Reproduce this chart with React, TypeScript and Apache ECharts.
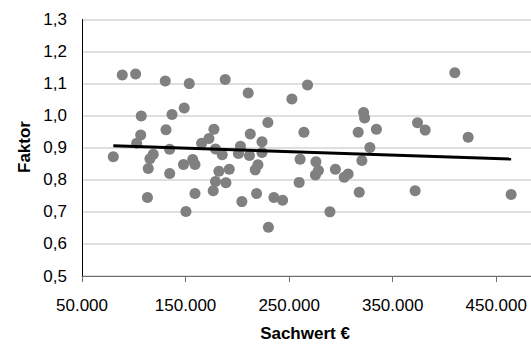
import React, { useEffect, useRef } from "react";
import * as echarts from "echarts";

// Sachwert (€) of each observation
const sachwert: number[] = [
  80200, 88900, 101800, 130400, 153600, 188300, 107200, 136900, 148700, 106700,
  131100, 177400, 172600, 165500, 102800, 118800, 115600, 134600, 178900, 203000,
  201100, 114000, 134700, 148000, 156900, 159100, 185400, 182200, 192200, 178900,
  189000, 176700, 204400, 113200, 159100, 150400, 210500, 252700, 267800, 229500,
  212500, 223800, 264300, 321900, 322900, 316700, 334300, 328000, 211700, 223800,
  219900, 217300, 260600, 275900, 278300, 275400, 294700, 307000, 303200, 320300,
  259700, 218600, 235300, 243700, 289400, 230000, 317700, 410000, 374000, 381400,
  422900, 371700, 464400,
];

// Faktor of each observation
const faktor: number[] = [
  0.872, 1.127, 1.13, 1.108, 1.1, 1.113, 0.999, 1.004, 1.024, 0.94,
  0.956, 0.958, 0.929, 0.914, 0.914, 0.88, 0.866, 0.895, 0.896, 0.905,
  0.882, 0.835, 0.82, 0.848, 0.863, 0.848, 0.878, 0.827, 0.833, 0.795,
  0.791, 0.766, 0.732, 0.745, 0.757, 0.701, 1.071, 1.052, 1.096, 0.979,
  0.943, 0.919, 0.948, 1.01, 0.993, 0.948, 0.958, 0.901, 0.876, 0.885,
  0.847, 0.831, 0.864, 0.856, 0.829, 0.815, 0.833, 0.818, 0.808, 0.86,
  0.792, 0.757, 0.745, 0.736, 0.7, 0.652, 0.761, 1.134, 0.978, 0.955,
  0.933, 0.766, 0.754,
];

const yTicks = { min: 0.5, max: 1.3, step: 0.1 };
const xTicks = { min: 50000, max: 500000, step: 100000 };

const xTitle = "Sachwert €";
const yTitle = "Faktor";

function linearFit(xs: number[], ys: number[]) {
  const n = xs.length;
  const mx = xs.reduce((a, b) => a + b, 0) / n;
  const my = ys.reduce((a, b) => a + b, 0) / n;
  let sxy = 0;
  let sxx = 0;
  for (let i = 0; i < n; i++) {
    sxy += (xs[i] - mx) * (ys[i] - my);
    sxx += (xs[i] - mx) * (xs[i] - mx);
  }
  const slope = sxy / sxx;
  return { slope, intercept: my - slope * mx };
}

const fmtThousands = (v: number) =>
  Math.round(v).toString().replace(/\B(?=(\d{3})+(?!\d))/g, ".");

export default function App() {
  const ref = useRef<HTMLDivElement>(null);

  useEffect(() => {
    if (!ref.current) return;
    const chart = echarts.init(ref.current, undefined, { renderer: "svg" });
    const font = "'Liberation Sans', Arial, sans-serif";
    const points = sachwert.map((x, i) => [x, faktor[i]]);
    const fit = linearFit(sachwert, faktor);
    const xMin = Math.min(...sachwert);
    const xMax = Math.max(...sachwert);
    const trend = [
      [xMin, fit.intercept + fit.slope * xMin],
      [xMax, fit.intercept + fit.slope * xMax],
    ];

    chart.setOption({
      animation: false,
      backgroundColor: "#ffffff",
      grid: { left: 82, top: 19.5, right: 0, bottom: 70, containLabel: false },
      xAxis: {
        type: "value",
        min: xTicks.min,
        max: xTicks.max,
        interval: xTicks.step,
        axisLine: { show: true, lineStyle: { color: "#6e6e6e", width: 1 } },
        axisTick: { show: true, length: 6, lineStyle: { color: "#6e6e6e" } },
        splitLine: { show: false },
        axisLabel: {
          margin: 21,
          color: "#000",
          fontSize: 17,
          fontFamily: font,
          formatter: (v: number) => fmtThousands(v),
        },
      },
      yAxis: {
        type: "value",
        min: yTicks.min,
        max: yTicks.max,
        interval: yTicks.step,
        axisLine: { show: true, lineStyle: { color: "#000", width: 1 } },
        axisTick: { show: false },
        splitLine: { show: true, lineStyle: { color: "#d4d4d4", width: 1.5 } },
        axisLabel: {
          margin: 15,
          color: "#000",
          fontSize: 17,
          fontFamily: font,
          formatter: (v: number) => v.toFixed(1).replace(".", ","),
        },
      },
      graphic: [
        {
          type: "text",
          x: 305,
          y: 333,
          style: {
            text: xTitle,
            fontSize: 17,
            fontWeight: "bold",
            fontFamily: font,
            fill: "#000",
            align: "center",
            verticalAlign: "middle",
          },
        },
        {
          type: "text",
          x: 24,
          y: 147,
          rotation: Math.PI / 2,
          style: {
            text: yTitle,
            fontSize: 17,
            fontWeight: "bold",
            fontFamily: font,
            fill: "#000",
            align: "center",
            verticalAlign: "middle",
          },
        },
      ],
      series: [
        {
          type: "scatter",
          data: points,
          symbol: "circle",
          symbolSize: 11,
          itemStyle: { color: "#808080", opacity: 1 },
          z: 2,
        },
        {
          type: "line",
          data: trend,
          showSymbol: false,
          symbol: "none",
          lineStyle: { color: "#000", width: 3 },
          z: 3,
        },
      ],
    });
    return () => chart.dispose();
  }, []);

  return (
    <div
      style={{
        position: "fixed",
        left: 0,
        top: 0,
        width: 531,
        height: 346,
        overflow: "hidden",
        background: "#fff",
      }}
    >
      <div ref={ref} style={{ width: 548, height: 346 }} />
    </div>
  );
}
